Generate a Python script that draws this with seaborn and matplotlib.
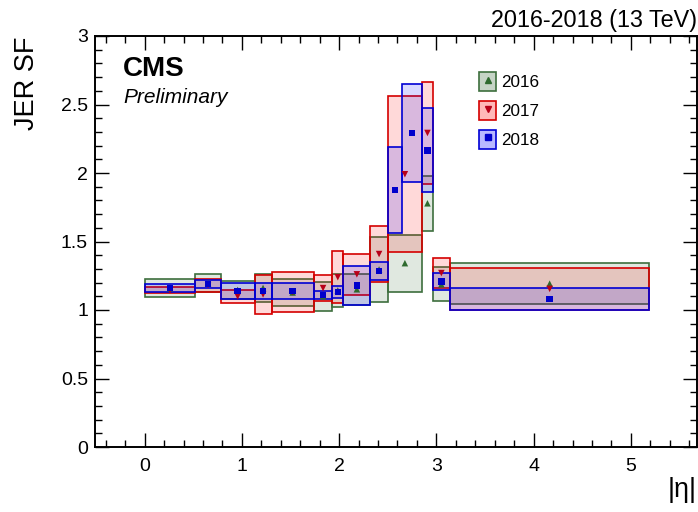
import numpy as np
import pandas as pd
import seaborn as sns
import matplotlib.pyplot as plt
from matplotlib.patches import Patch
from matplotlib.lines import Line2D
from matplotlib.ticker import MultipleLocator, FuncFormatter

# bin edges in |eta| (2018 has the extra 2.65 split)
edges_1617 = [0.0, 0.522, 0.783, 1.131, 1.305, 1.740, 1.930, 2.043, 2.322, 2.500, 2.853, 2.964, 3.139, 5.191]
edges_2018 = [0.0, 0.522, 0.783, 1.131, 1.305, 1.740, 1.930, 2.043, 2.322, 2.500, 2.650, 2.853, 2.964, 3.139, 5.191]

sf_2016 = [1.1595, 1.1948, 1.1464, 1.1609, 1.1278, 1.1000, 1.1426, 1.1512, 1.2963, 1.3418, 1.7788, 1.1869, 1.1922]
err_2016 = [0.0645, 0.0652, 0.0632, 0.1025, 0.0986, 0.1079, 0.1214, 0.1140, 0.2371, 0.2091, 0.2008, 0.1243, 0.1488]

sf_2017 = [1.1432, 1.1815, 1.0989, 1.1137, 1.1307, 1.1600, 1.2393, 1.2604, 1.4085, 1.9909, 2.2923, 1.2696, 1.1542]
err_2017 = [0.0222, 0.0484, 0.0456, 0.1397, 0.1470, 0.0976, 0.1909, 0.1501, 0.2020, 0.5684, 0.3743, 0.1089, 0.1524]

sf_2018 = [1.160, 1.190, 1.137, 1.140, 1.138, 1.110, 1.131, 1.178, 1.283, 1.876, 2.291, 2.166, 1.207, 1.080]
err_2018 = [0.028, 0.032, 0.057, 0.057, 0.057, 0.032, 0.047, 0.141, 0.066, 0.314, 0.359, 0.307, 0.061, 0.082]

years = ['2016', '2017', '2018']


def make_frame(year, edges, sf, err):
    edges = np.array(edges)
    return pd.DataFrame({
        'year': year,
        'lo': edges[:-1],
        'width': np.diff(edges),
        'eta': 0.5 * (edges[:-1] + edges[1:]),
        'sf': sf,
        'err': err,
    })


def main():
    df = pd.concat([
        make_frame('2016', edges_1617, sf_2016, err_2016),
        make_frame('2017', edges_1617, sf_2017, err_2017),
        make_frame('2018', edges_2018, sf_2018, err_2018),
    ], ignore_index=True)

    sns.set_theme(style='ticks')
    plt.rcParams['font.family'] = ['Liberation Sans', 'DejaVu Sans']
    plt.rcParams['text.color'] = 'black'
    plt.rcParams['axes.labelcolor'] = 'black'
    plt.rcParams['xtick.color'] = 'black'
    plt.rcParams['ytick.color'] = 'black'

    line_col = {'2016': '#3d6e3d', '2017': '#d40000', '2018': '#0000d4'}
    fill_col = {'2016': (0.2, 0.4, 0.2, 0.15), '2017': (1.0, 0.0, 0.0, 0.15), '2018': (0.0, 0.0, 1.0, 0.15)}
    leg_fill = {'2016': (0.2, 0.4, 0.2, 0.28), '2017': (1.0, 0.0, 0.0, 0.28), '2018': (0.0, 0.0, 1.0, 0.28)}
    mark_col = {'2016': '#2e6a2e', '2017': '#b80018', '2018': '#0000cc'}
    markers = {'2016': '^', '2017': 'v', '2018': 's'}

    fig = plt.figure(figsize=(6.98, 5.12), dpi=100)
    ax = fig.add_axes([95 / 698, 65 / 512, 602 / 698, 411 / 512])

    # uncertainty boxes
    for y in years:
        d = df[df['year'] == y]
        ax.bar(d['lo'], 2 * d['err'], width=d['width'], bottom=d['sf'] - d['err'],
               align='edge', color=fill_col[y], edgecolor=line_col[y], linewidth=1.2, zorder=2)

    # central values
    sns.scatterplot(data=df, x='eta', y='sf', hue='year', style='year',
                    palette=mark_col, markers=markers, s=22, linewidth=0,
                    legend=False, ax=ax, zorder=3)

    ax.set_xlim(-0.51, 5.68)
    ax.set_ylim(0, 3)
    ax.set_xlabel('')
    ax.set_ylabel('')
    ax.xaxis.set_major_locator(MultipleLocator(1))
    ax.xaxis.set_minor_locator(MultipleLocator(0.2))
    ax.yaxis.set_major_locator(MultipleLocator(0.5))
    ax.yaxis.set_minor_locator(MultipleLocator(0.1))
    ax.yaxis.set_major_formatter(FuncFormatter(lambda v, p: '%g' % v))
    ax.tick_params(which='both', direction='in', top=True, right=True, width=1.0, colors='black')
    ax.tick_params(which='major', length=10)
    ax.tick_params(which='minor', length=5)
    ax.tick_params(axis='x', labelsize=14, pad=8)
    ax.tick_params(axis='y', labelsize=14, pad=5)
    for s in ax.spines.values():
        s.set_linewidth(1.4)
        s.set_color('black')

    # legend: filled box with the marker on top
    handles = []
    for y in years:
        box = Patch(facecolor=leg_fill[y], edgecolor=line_col[y], linewidth=1.2)
        mk = Line2D([], [], linestyle='none', marker=markers[y], color=mark_col[y], markersize=4)
        handles.append((box, mk))
    ax.legend(handles, years, loc='upper left', bbox_to_anchor=(0.638, 0.912),
              frameon=False, fontsize=12.3, handlelength=1.0, handleheight=1.3,
              handletextpad=0.3, labelspacing=0.6, borderpad=0, borderaxespad=0)

    ax.text(0.0465, 0.903, 'CMS', transform=ax.transAxes, fontsize=20, fontweight='bold',
            va='baseline', color='black')
    ax.text(0.0465, 0.837, 'Preliminary', transform=ax.transAxes, fontsize=15, style='italic',
            va='baseline', color='black')
    fig.text(697 / 698, 1 - 27 / 512, '2016-2018 (13 TeV)', ha='right', va='baseline', fontsize=16.8)
    fig.text(27 / 698, 1 - 36 / 512, 'JER SF', rotation=90, ha='center', va='top', fontsize=19.5)
    fig.text(697 / 698, 1 - 490 / 512, '|η|', ha='right', va='center', fontsize=19.5)

    fig.savefig('out.png', dpi=100)


if __name__ == "__main__":
    main()
